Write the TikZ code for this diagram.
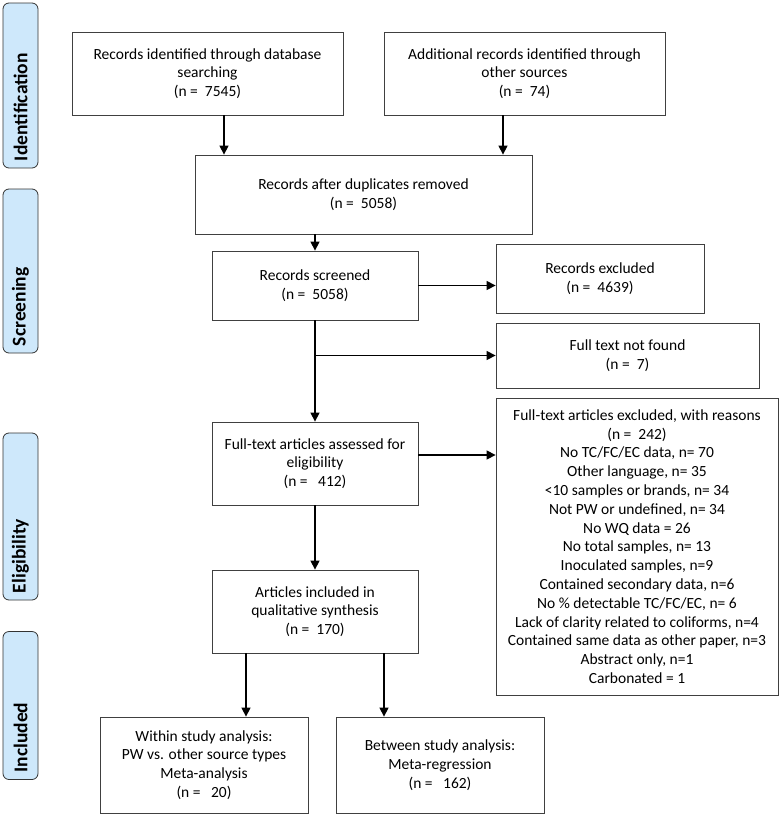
\documentclass[tikz,border=0pt]{standalone}
\usepackage{fontspec}
\setmainfont{Carlito}
\usetikzlibrary{arrows.meta}
\definecolor{sideblue}{RGB}{206,232,251}

\begin{document}
\begin{tikzpicture}[x=1pt, y=-1pt,
				   box/.style={draw=black!75, line width=0.8pt, align=center, inner sep=2pt, font=\fontsize{15.5}{18.8}\selectfont},
				   side/.style={draw=black!80, line width=0.8pt, fill=sideblue, rounded corners=6pt, rotate=90, minimum height=35pt, inner xsep=7pt, inner ysep=1pt, align=left, font=\fontsize{19.5}{21}\selectfont\bfseries},
				   arr/.style={-{Triangle[length=9pt, width=9pt]}, line width=1.3pt}]
\useasboundingbox (0,0) rectangle (781,817);

\node[side, text width=151pt] (sideid) at (20.5,85.5) {Identification};
\node[side, text width=150pt] (sidescr) at (20.5,271) {Screening};
\node[side, text width=153pt] (sideelig) at (20.5,516.5) {Eligibility};
\node[side, text width=134pt] (sideincl) at (20.5,705.5) {Included};

\node[box, minimum width=271pt, minimum height=83pt] (recdb) at (207.5,73.5) {Records identified through database\\searching\\(n =\ \ 7545)};
\node[box, minimum width=281pt, minimum height=83pt] (recother) at (524.5,73.5) {Additional records identified through\\other sources\\(n =\ \ 74)};
\node[box, minimum width=337pt, minimum height=79pt] (recdup) at (363.5,194.5) {Records after duplicates removed\\(n =\ \ 5058)};
\node[box, minimum width=206pt, minimum height=69pt] (recscr) at (315,285.5) {Records screened\\(n =\ \ 5058)};
\node[box, minimum width=208pt, minimum height=69pt] (recexc) at (600,278.5) {Records excluded\\(n =\ \ 4639)};
\node[box, minimum width=263pt, minimum height=65pt] (notfound) at (627.5,355.5) {Full text not found\\(n =\ \ 7)};
\node[box, minimum width=206pt, minimum height=83pt] (ftass) at (315,463.5) {Full-text articles assessed for\\eligibility\\(n =\ \ \ 412)};
\node[box, minimum width=282pt, minimum height=297pt] (ftexc) at (637,546.5) {Full-text articles excluded, with reasons\\(n =\ \ 242)\\No TC/FC/EC data, n= 70\\Other language, n= 35\\<10 samples or brands, n= 34\\Not PW or undefined, n= 34\\No WQ data = 26\\No total samples, n= 13\\Inoculated samples, n=9\\Contained secondary data, n=6\\No \% detectable TC/FC/EC, n= 6\\Lack of clarity related to coliforms, n=4\\Contained same data as other paper, n=3\\Abstract only, n=1\\Carbonated = 1};
\node[box, minimum width=206pt, minimum height=83pt] (incl) at (315,611.5) {Articles included in\\qualitative synthesis\\(n =\ \ 170)};
\node[box, minimum width=208pt, minimum height=96pt] (within) at (204,765) {Within study analysis:\\PW vs. other source types\\Meta-analysis\\(n =\ \ \ 20)};
\node[box, minimum width=208pt, minimum height=96pt] (between) at (440,765) {Between study analysis:\\Meta-regression\\(n =\ \ \ 162)};

\coordinate (dbout) at ([xshift=16.5pt]recdb.south);
\coordinate (otherout) at ([xshift=-21.5pt]recother.south);
\coordinate (assout) at ([yshift=8.5pt]ftass.east);
\coordinate (inclleft) at ([xshift=-69pt]incl.south);
\coordinate (inclright) at ([xshift=69pt]incl.south);

\draw[arr] (dbout) -- (dbout |- recdup.north);
\draw[arr] (otherout) -- (otherout |- recdup.north);
\draw[arr] (recscr.north |- recdup.south) -- (recscr.north);
\draw[arr] (recscr.east) -- (recscr.east -| recexc.west);
\draw[arr] (recscr.south) -- (ftass.north);
\draw[arr] (recscr.south |- notfound.west) -- (notfound.west);
\draw[arr] (assout) -- (assout -| ftexc.west);
\draw[arr] (ftass.south) -- (incl.north);
\draw[arr] (inclleft) -- (inclleft |- within.north);
\draw[arr] (inclright) -- (inclright |- between.north);
\end{tikzpicture}
\end{document}
